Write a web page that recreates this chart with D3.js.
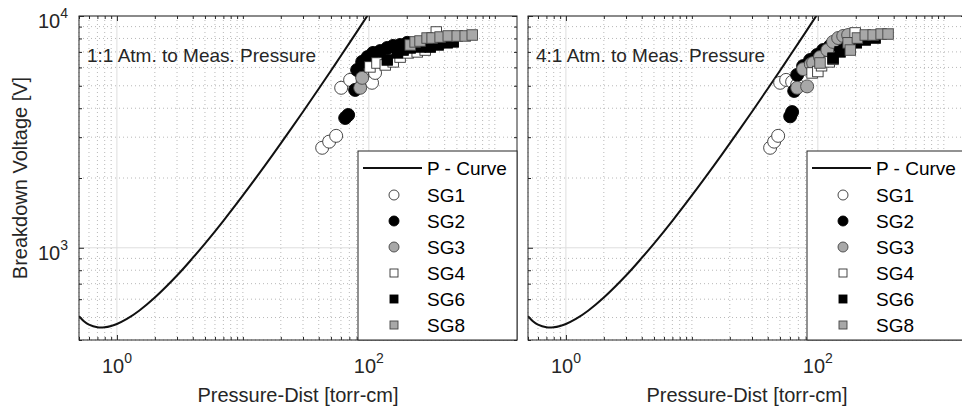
<!DOCTYPE html>
<html>
<head>
<meta charset="utf-8">
<script src="https://cdn.jsdelivr.net/npm/d3@7"></script>
<style>
  body { margin: 0; background: #fff; }
  svg { display: block; font-family: "Liberation Sans", Arial, sans-serif; }
</style>
</head>
<body>
<svg width="962" height="409"></svg>
<script>
// axis setup
var xDomain = [0.5, 1500];
var yDomain = [400, 10000];
var xMajorTicks = [1, 100];
var yMajorTicks = [1000, 10000];
var xTickExps = ["0", "2"];
var yTickExps = ["3", "4"];
var panelTitles = ["1:1 Atm. to Meas. Pressure", "4:1 Atm. to Meas. Pressure"];
var seriesNames = ["SG1", "SG2", "SG3", "SG4", "SG6", "SG8"];

// P - Curve
var curvePd = [0.5, 0.55, 0.6, 0.7, 0.8, 0.9, 1, 1.2, 1.5, 2, 3, 4, 5, 7, 10, 15, 20, 30, 40, 50, 60, 80, 100];
var curveV = [507, 481, 466, 454, 454, 460, 469, 493, 535, 610, 759, 904, 1042, 1307, 1682, 2267, 2820, 3864, 4854, 5808, 6734, 8522, 10249];

// measurements, [pressure-dist, voltage]
var sg1Left = [[42.6, 2700], [48.4, 2870], [55.0, 3040], [60.3, 4900], [71.0, 5300], [88.5, 5670], [106, 5150], [112, 5680]];
var sg2Left = [[64.9, 3630], [68.5, 3740], [77.8, 4800], [80.7, 5850], [88.5, 6340], [97.7, 6650], [108, 6930], [123, 7060], [140, 7280], [156, 7430], [177, 7500], [202, 7660]];
var sg3Left = [[85.3, 4900], [88.5, 5410]];
var sg4Left = [[102, 6030], [116, 6270], [135, 6150], [156, 6340], [177, 6650], [205, 6930], [242, 7000], [280, 7130], [343, 8530]];
var sg6Left = [[140, 6460], [168, 6930], [187, 7130], [213, 7280], [255, 7350], [307, 7345], [355, 7500], [419, 7660], [468, 7730]];
var sg8Left = [[213, 7500], [233, 7730], [255, 7800], [290, 8035], [318, 8035], [368, 8114], [427, 8200], [503, 8200], [582, 8200], [662, 8280]];

var sg1Right = [[41.8, 2700], [45.0, 2870], [48.4, 3040], [50.2, 5150], [56.0, 5300], [62.5, 5200], [68.5, 5050]];
var sg2Right = [[60.3, 3690], [62.5, 3850], [64.9, 4750], [68.5, 5570], [76.4, 6080], [86.8, 6460], [98.6, 6790], [110, 7130], [125, 7430], [145, 7730], [159, 7880]];
var sg3Right = [[68.5, 4900], [82.2, 4970], [76.4, 5900], [88, 6200], [91.8, 6270], [104, 6650], [119, 7130], [132, 7730], [145, 8035], [159, 8200], [174, 8280]];
var sg4Right = [[90, 5680], [100, 5760], [107, 6100], [123, 6340], [132, 6500], [198, 8450]];
var sg6Right = [[132, 6580], [150, 7000], [174, 7345], [202, 7660], [238, 7880], [285, 8035]];
var sg8Right = [[104, 6270], [174, 7660], [181, 7130], [206, 8035], [238, 8280], [275, 8280], [318, 8360], [361, 8360]];

var styles = [
  {shape: "circle", fill: "#fff", stroke: "#333"},
  {shape: "circle", fill: "#000", stroke: "#000"},
  {shape: "circle", fill: "#a8a8a8", stroke: "#444"},
  {shape: "square", fill: "#fff", stroke: "#333"},
  {shape: "square", fill: "#000", stroke: "#000"},
  {shape: "square", fill: "#a8a8a8", stroke: "#444"}
];

var svg = d3.select("svg");
var plotTop = 16, plotBottom = 340, panelW = 438;
var axisColor = "#262626";

var panels = [
  {x0: 79, title: panelTitles[0], sets: [sg1Left, sg2Left, sg3Left, sg4Left, sg6Left, sg8Left], yLabels: true},
  {x0: 528, title: panelTitles[1], sets: [sg1Right, sg2Right, sg3Right, sg4Right, sg6Right, sg8Right], yLabels: false}
];

function minorTicks(domain) {
  var out = [];
  var lo = Math.floor(Math.log10(domain[0])), hi = Math.ceil(Math.log10(domain[1]));
  for (var e = lo; e <= hi; e++) {
    for (var m = 1; m < 10; m++) {
      var v = m * Math.pow(10, e);
      if (v >= domain[0] && v <= domain[1]) out.push(v);
    }
  }
  return out;
}

function drawMarker(g, st, x, y, r, side) {
  if (st.shape == "circle") {
    g.append("circle").attr("cx", x).attr("cy", y).attr("r", r)
      .attr("fill", st.fill).attr("stroke", st.stroke).attr("stroke-width", 0.9);
  } else {
    g.append("rect").attr("x", x - side / 2).attr("y", y - side / 2)
      .attr("width", side).attr("height", side)
      .attr("fill", st.fill).attr("stroke", st.stroke).attr("stroke-width", 0.9);
  }
}

panels.forEach(function(p, pi) {
  var x = d3.scaleLog().domain(xDomain).range([p.x0, p.x0 + panelW]);
  var y = d3.scaleLog().domain(yDomain).range([plotBottom, plotTop]);
  var g = svg.append("g");

  var clipId = "clip" + pi;
  svg.append("clipPath").attr("id", clipId).append("rect")
    .attr("x", p.x0).attr("y", plotTop).attr("width", panelW).attr("height", plotBottom - plotTop);

  var xMinor = minorTicks(xDomain).filter(function(v) { return xMajorTicks.indexOf(v) < 0; });
  var yMinor = minorTicks(yDomain).filter(function(v) { return yMajorTicks.indexOf(v) < 0; });

  // grid
  var grid = g.append("g");
  grid.selectAll(".gxm").data(xMinor).enter().append("line")
    .attr("x1", function(d) { return x(d); }).attr("x2", function(d) { return x(d); })
    .attr("y1", plotTop).attr("y2", plotBottom)
    .attr("stroke", "#b8b8b8").attr("stroke-width", 1).attr("stroke-dasharray", "1,3");
  grid.selectAll(".gym").data(yMinor).enter().append("line")
    .attr("x1", p.x0).attr("x2", p.x0 + panelW)
    .attr("y1", function(d) { return y(d); }).attr("y2", function(d) { return y(d); })
    .attr("stroke", "#b8b8b8").attr("stroke-width", 1).attr("stroke-dasharray", "1,3");
  grid.selectAll(".gx").data(xMajorTicks).enter().append("line")
    .attr("x1", function(d) { return x(d); }).attr("x2", function(d) { return x(d); })
    .attr("y1", plotTop).attr("y2", plotBottom)
    .attr("stroke", "#dedede").attr("stroke-width", 1);
  grid.selectAll(".gy").data(yMajorTicks).enter().append("line")
    .attr("x1", p.x0).attr("x2", p.x0 + panelW)
    .attr("y1", function(d) { return y(d); }).attr("y2", function(d) { return y(d); })
    .attr("stroke", "#dedede").attr("stroke-width", 1);

  // curve
  var pts = curvePd.map(function(d, i) { return [d, curveV[i]]; });
  var line = d3.line()
    .x(function(d) { return x(d[0]); })
    .y(function(d) { return y(d[1]); })
    .curve(d3.curveCatmullRom);
  g.append("path").datum(pts)
    .attr("clip-path", "url(#" + clipId + ")")
    .attr("d", line).attr("fill", "none")
    .attr("stroke", "#111").attr("stroke-width", 2);

  // measurements
  var marks = g.append("g").attr("clip-path", "url(#" + clipId + ")");
  p.sets.forEach(function(set, si) {
    set.forEach(function(d) {
      drawMarker(marks, styles[si], x(d[0]), y(d[1]), 6.5, 10.5);
    });
  });

  // axes, ticks pointing inward
  function styleAxis(a) {
    a.select(".domain").remove();
    a.selectAll("line").attr("stroke", axisColor);
    a.selectAll("text").remove();
  }
  g.append("g").attr("transform", "translate(0," + plotBottom + ")")
    .call(d3.axisBottom(x).tickValues(xMajorTicks).tickSize(-5)).call(styleAxis);
  g.append("g").attr("transform", "translate(0," + plotBottom + ")")
    .call(d3.axisBottom(x).tickValues(xMinor).tickSize(-3)).call(styleAxis);
  g.append("g").attr("transform", "translate(0," + plotTop + ")")
    .call(d3.axisTop(x).tickValues(xMajorTicks).tickSize(-5)).call(styleAxis);
  g.append("g").attr("transform", "translate(0," + plotTop + ")")
    .call(d3.axisTop(x).tickValues(xMinor).tickSize(-3)).call(styleAxis);
  g.append("g").attr("transform", "translate(" + p.x0 + ",0)")
    .call(d3.axisLeft(y).tickValues(yMajorTicks).tickSize(-5)).call(styleAxis);
  g.append("g").attr("transform", "translate(" + p.x0 + ",0)")
    .call(d3.axisLeft(y).tickValues(yMinor).tickSize(-3)).call(styleAxis);
  g.append("g").attr("transform", "translate(" + (p.x0 + panelW) + ",0)")
    .call(d3.axisRight(y).tickValues(yMajorTicks).tickSize(-5)).call(styleAxis);
  g.append("g").attr("transform", "translate(" + (p.x0 + panelW) + ",0)")
    .call(d3.axisRight(y).tickValues(yMinor).tickSize(-3)).call(styleAxis);

  g.append("rect").attr("x", p.x0).attr("y", plotTop).attr("width", panelW).attr("height", plotBottom - plotTop)
    .attr("fill", "none").attr("stroke", axisColor).attr("stroke-width", 1);

  // tick labels 10^n
  xMajorTicks.forEach(function(v, i) {
    var t = g.append("text").attr("x", x(v)).attr("y", plotBottom + 33)
      .attr("text-anchor", "middle").attr("fill", axisColor).attr("font-size", 20);
    t.append("tspan").text("10");
    t.append("tspan").attr("dy", -10).attr("font-size", 14).text(xTickExps[i]);
  });
  if (p.yLabels) {
    yMajorTicks.forEach(function(v, i) {
      var t = g.append("text").attr("x", p.x0 - 11).attr("y", y(v) + 12)
        .attr("text-anchor", "end").attr("fill", axisColor).attr("font-size", 20);
      t.append("tspan").text("10");
      t.append("tspan").attr("dy", -10).attr("font-size", 14).text(yTickExps[i]);
    });
    g.append("text")
      .attr("transform", "translate(27," + ((plotTop + plotBottom) / 2) + ") rotate(-90)")
      .attr("text-anchor", "middle").attr("fill", axisColor).attr("font-size", 20)
      .text("Breakdown Voltage [V]");
  }
  g.append("text").attr("x", p.x0 + panelW / 2).attr("y", plotBottom + 62)
    .attr("text-anchor", "middle").attr("fill", axisColor).attr("font-size", 20)
    .text("Pressure-Dist [torr-cm]");

  g.append("text").attr("x", p.x0 + 8).attr("y", plotTop + 46)
    .attr("fill", axisColor).attr("font-size", 19).text(p.title);

  // legend
  var lx = p.x0 + 279, ly = 151;
  var leg = g.append("g");
  leg.append("rect").attr("x", lx).attr("y", ly).attr("width", p.x0 + panelW - lx).attr("height", plotBottom - ly)
    .attr("fill", "#fff").attr("stroke", axisColor).attr("stroke-width", 1);
  leg.append("line").attr("x1", lx + 5).attr("x2", lx + 64).attr("y1", ly + 17).attr("y2", ly + 17)
    .attr("stroke", "#111").attr("stroke-width", 2);
  leg.append("text").attr("x", lx + 69).attr("y", ly + 24).attr("fill", "#000").attr("font-size", 19)
    .text("P - Curve");
  seriesNames.forEach(function(name, i) {
    var cy = ly + 44 + i * 26;
    drawMarker(leg, styles[i], lx + 36, cy, 5, 8);
    leg.append("text").attr("x", lx + 69).attr("y", cy + 7).attr("fill", "#000").attr("font-size", 19)
      .text(name);
  });
});
</script>
</body>
</html>
